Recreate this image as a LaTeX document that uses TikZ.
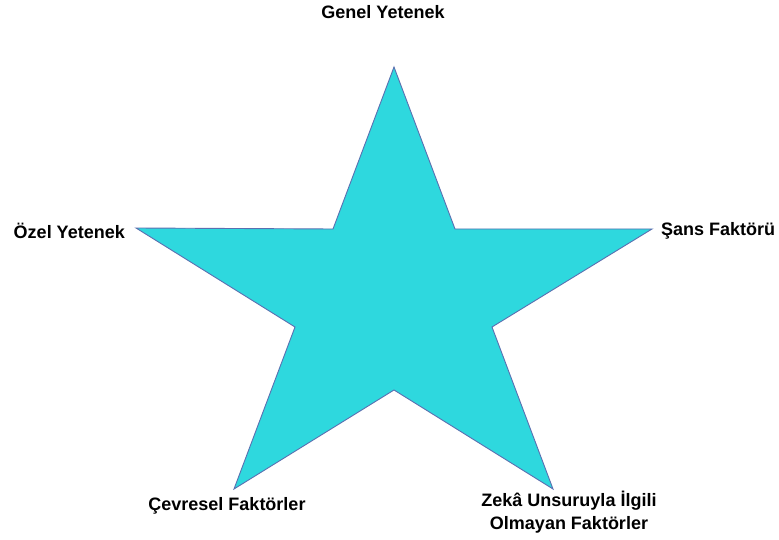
\documentclass[tikz,border=0pt]{standalone}
\usepackage{fontspec}
\setmainfont{Liberation Sans}
\usepackage{xcolor}
\usepackage{tikz}
\usetikzlibrary{positioning}
\definecolor{StarFill}{HTML}{2ED8DE}
\definecolor{StarLine}{HTML}{5B6FB0}

\begin{document}
\begin{tikzpicture}[
        x=1pt,y=-1pt,
        every node/.style={font=\fontsize{18}{23.5}\selectfont\bfseries,inner sep=0pt},
        star/.style={fill=StarFill,draw=StarLine,line width=0.9pt,line join=miter},
        lbl/.style={align=center}
      ]
      \useasboundingbox (0,0) rectangle (779,540);
      % star tips and inner corners
      \coordinate (top) at (394,67);
      \coordinate (right) at (652,229);
      \coordinate (left) at (136,228);
      \coordinate (botleft) at (234,489);
      \coordinate (botright) at (553,489);
      \coordinate (in1) at (455,229);
      \coordinate (in2) at (492,327);
      \coordinate (in3) at (394,390);
      \coordinate (in4) at (295,327);
      \coordinate (in5) at (333,229);
      \draw[star] (top) -- (in1) -- (right) -- (in2) -- (botright) -- (in3)
        -- (botleft) -- (in4) -- (left) -- (in5) -- cycle;

      \node[lbl] (genel) at (383,12) {Genel Yetenek};
      \node[lbl,anchor=east] (ozel) at (125,231) {Özel Yetenek};
      \node[lbl,anchor=west] (sans) at (661,231) {Şans Faktörü};
      \node[lbl] (cevre) at (227,506) {Çevresel Faktörler};
      \node[lbl] (zeka) at (569,512) {Zekâ Unsuruyla İlgili\\Olmayan Faktörler};
    \end{tikzpicture}
\end{document}
